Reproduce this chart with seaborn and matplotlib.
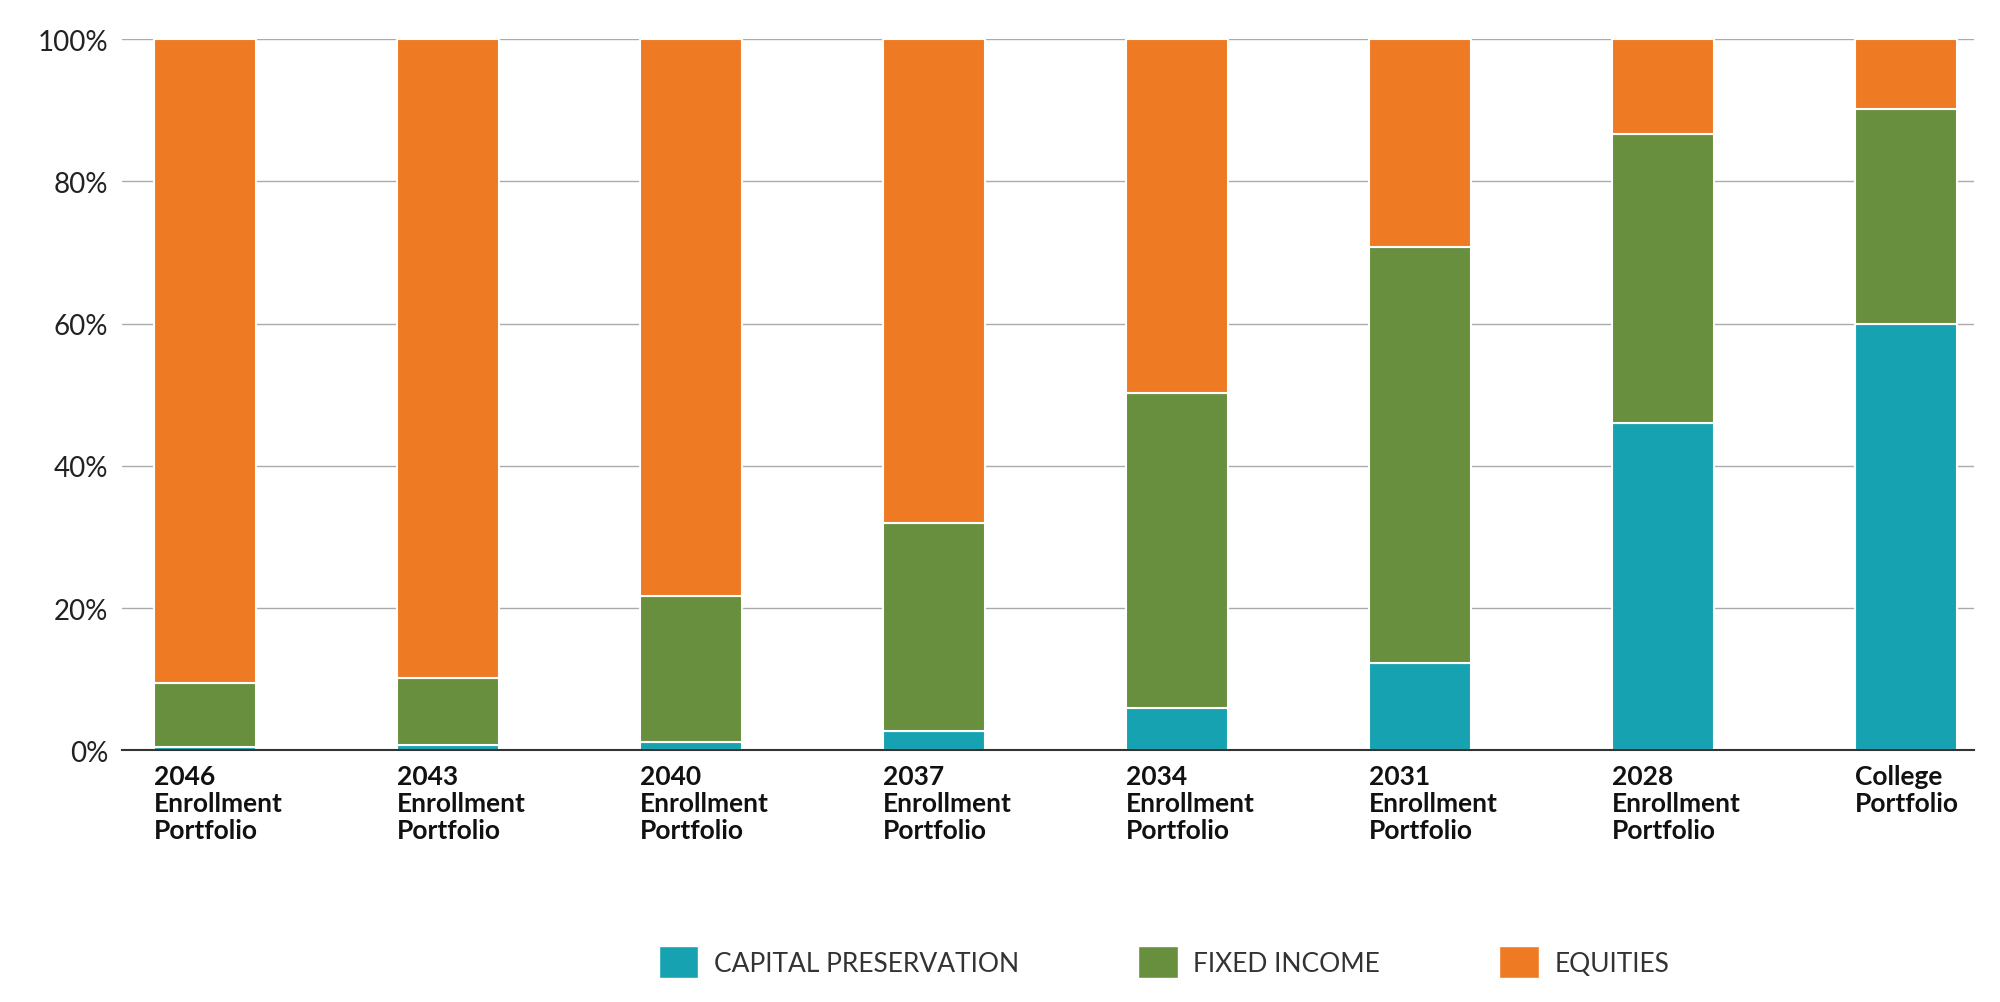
import numpy as np
import pandas as pd
import matplotlib.pyplot as plt
import seaborn as sns
from matplotlib.patches import Patch

sns.set_style("white")
plt.rcParams['font.family'] = ['Lato', 'DejaVu Sans']

portfolios = ["2046\nEnrollment\nPortfolio", "2043\nEnrollment\nPortfolio", "2040\nEnrollment\nPortfolio",
              "2037\nEnrollment\nPortfolio", "2034\nEnrollment\nPortfolio", "2031\nEnrollment\nPortfolio",
              "2028\nEnrollment\nPortfolio", "College\nPortfolio"]
capital = [0.5, 0.8, 1.1, 2.7, 6.0, 12.3, 46.0, 60.0]
fixed = [9.0, 9.4, 20.6, 29.3, 44.2, 58.5, 40.6, 30.2]
equities = [90.5, 89.8, 78.3, 68.0, 49.8, 29.2, 13.4, 9.8]

colors = {"CAPITAL PRESERVATION": "#17a2b1", "FIXED INCOME": "#688f3d", "EQUITIES": "#ee7a23"}

df = pd.DataFrame({"portfolio": portfolios, "cap": capital, "fix": fixed, "eq": equities})

fig = plt.figure(figsize=(20, 10.03), dpi=100)
ax = fig.add_axes([0.061, 0.251, 0.926, 0.709])

bottom = np.zeros(len(df))
for col, name in zip(["cap", "fix", "eq"], colors):
    sns.barplot(data=df, x="portfolio", y=col, bottom=bottom, color=colors[name],
                width=0.42, edgecolor="white", linewidth=1.5, ax=ax, saturation=1)
    bottom = bottom + df[col].values

ax.set_ylim(0, 100)
ax.set_xlim(-0.34, 7.28)
ax.set_yticks([0, 20, 40, 60, 80, 100])
ax.set_yticklabels([f"{v}%" for v in [0, 20, 40, 60, 80, 100]], fontsize=20, color="#222222")
ax.yaxis.grid(True, color="#aaaaaa", linewidth=1)
ax.set_axisbelow(True)
ax.set_xticks(np.arange(len(df)) - 0.21)
ax.set_xticklabels(portfolios, ha="left", fontsize=19, fontweight="bold", color="#111111",
                   linespacing=1.15)
ax.tick_params(axis="both", length=0, pad=10)
ax.set_xlabel("")
ax.set_ylabel("")
for s in ["top", "right", "left"]:
    ax.spines[s].set_visible(False)
ax.spines["bottom"].set_color("#333333")
ax.spines["bottom"].set_linewidth(1.5)

handles = [Patch(facecolor=c, label=n) for n, c in colors.items()]
fig.legend(handles=handles, loc="center", bbox_to_anchor=(0.582, 0.04), ncol=3, frameon=False,
           fontsize=19, handlelength=1.5, handleheight=1.5, columnspacing=4.5, handletextpad=0.6,
           labelcolor="#333333")

fig.savefig("out.png", dpi=100)
